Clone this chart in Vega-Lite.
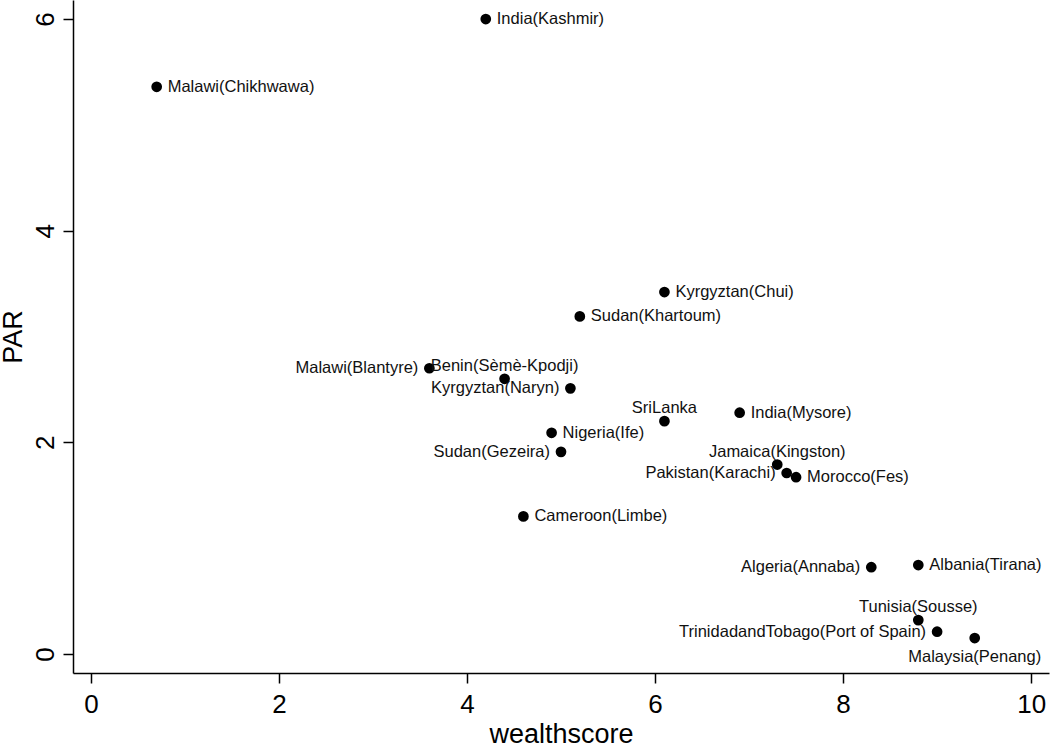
{
  "$schema": "https://vega.github.io/schema/vega-lite/v6.json",
  "width": 976,
  "height": 673,
  "autosize": {"type": "none"},
  "padding": {"left": 73, "top": 0, "right": 1, "bottom": 71},
  "background": "white",
  "config": {"view": {"stroke": null}, "font": "Liberation Sans"},
  "data": {
    "values": [
      {"site": "India(Kashmir)", "wealthscore": 4.2, "PAR": 6.0},
      {"site": "Malawi(Chikhwawa)", "wealthscore": 0.7, "PAR": 5.36},
      {"site": "Kyrgyztan(Chui)", "wealthscore": 6.1, "PAR": 3.42},
      {"site": "Sudan(Khartoum)", "wealthscore": 5.2, "PAR": 3.19},
      {"site": "Malawi(Blantyre)", "wealthscore": 3.6, "PAR": 2.7},
      {"site": "Benin(Sèmè-Kpodji)", "wealthscore": 4.4, "PAR": 2.6},
      {"site": "Kyrgyztan(Naryn)", "wealthscore": 5.1, "PAR": 2.51},
      {"site": "SriLanka", "wealthscore": 6.1, "PAR": 2.2},
      {"site": "India(Mysore)", "wealthscore": 6.9, "PAR": 2.28},
      {"site": "Nigeria(Ife)", "wealthscore": 4.9, "PAR": 2.09},
      {"site": "Sudan(Gezeira)", "wealthscore": 5.0, "PAR": 1.91},
      {"site": "Jamaica(Kingston)", "wealthscore": 7.3, "PAR": 1.79},
      {"site": "Pakistan(Karachi)", "wealthscore": 7.4, "PAR": 1.71},
      {"site": "Morocco(Fes)", "wealthscore": 7.5, "PAR": 1.67},
      {"site": "Cameroon(Limbe)", "wealthscore": 4.6, "PAR": 1.3},
      {"site": "Algeria(Annaba)", "wealthscore": 8.3, "PAR": 0.82},
      {"site": "Albania(Tirana)", "wealthscore": 8.8, "PAR": 0.84},
      {"site": "Tunisia(Sousse)", "wealthscore": 8.8, "PAR": 0.32},
      {"site": "TrinidadandTobago(Port of Spain)", "wealthscore": 9.0, "PAR": 0.21},
      {"site": "Malaysia(Penang)", "wealthscore": 9.4, "PAR": 0.15}
    ]
  },
  "encoding": {
    "x": {
      "field": "wealthscore",
      "type": "quantitative",
      "scale": {"domain": [-0.19, 10.19], "nice": false, "zero": false},
      "axis": {
        "title": "wealthscore",
        "values": [0, 2, 4, 6, 8, 10],
        "grid": false,
        "domainColor": "black",
        "domainWidth": 1.5,
        "tickColor": "black",
        "tickWidth": 1.5,
        "tickSize": 10,
        "labelFontSize": 26,
        "labelColor": "black",
        "labelPadding": 8,
        "labelFlush": false,
        "titleFontSize": 27,
        "titleFontWeight": "normal",
        "titleColor": "black",
        "titlePadding": 4
      }
    },
    "y": {
      "field": "PAR",
      "type": "quantitative",
      "scale": {"domain": [-0.18, 6.18], "nice": false, "zero": false},
      "axis": {
        "title": "PAR",
        "values": [0, 2, 4, 6],
        "grid": false,
        "domainColor": "black",
        "domainWidth": 1.5,
        "tickColor": "black",
        "tickWidth": 1.5,
        "tickSize": 10,
        "labelFontSize": 26,
        "labelColor": "black",
        "labelAngle": -90,
        "labelAlign": "center",
        "labelBaseline": "alphabetic",
        "labelPadding": 10,
        "labelFlush": false,
        "titleFontSize": 27,
        "titleFontWeight": "normal",
        "titleColor": "black",
        "titlePadding": 5
      }
    }
  },
  "layer": [
    {"mark": {"type": "circle", "size": 115, "color": "black", "opacity": 1}},
    {
      "transform": [{"filter": {"field": "site", "oneOf": ["India(Kashmir)", "Malawi(Chikhwawa)", "Kyrgyztan(Chui)", "Sudan(Khartoum)", "India(Mysore)", "Nigeria(Ife)", "Morocco(Fes)", "Cameroon(Limbe)", "Albania(Tirana)"]}}],
      "mark": {"type": "text", "align": "left", "baseline": "middle", "dx": 11, "fontSize": 16.5, "color": "#111111"},
      "encoding": {"text": {"field": "site"}}
    },
    {
      "transform": [{"filter": {"field": "site", "oneOf": ["Malawi(Blantyre)", "Kyrgyztan(Naryn)", "Sudan(Gezeira)", "Pakistan(Karachi)", "Algeria(Annaba)", "TrinidadandTobago(Port of Spain)"]}}],
      "mark": {"type": "text", "align": "right", "baseline": "middle", "dx": -11, "fontSize": 16.5, "color": "#111111"},
      "encoding": {"text": {"field": "site"}}
    },
    {
      "transform": [{"filter": {"field": "site", "oneOf": ["Benin(Sèmè-Kpodji)", "SriLanka", "Jamaica(Kingston)", "Tunisia(Sousse)"]}}],
      "mark": {"type": "text", "align": "center", "baseline": "alphabetic", "dy": -8, "fontSize": 16.5, "color": "#111111"},
      "encoding": {"text": {"field": "site"}}
    },
    {
      "transform": [{"filter": {"field": "site", "oneOf": ["Malaysia(Penang)"]}}],
      "mark": {"type": "text", "align": "center", "baseline": "top", "dy": 11, "fontSize": 16.5, "color": "#111111"},
      "encoding": {"text": {"field": "site"}}
    }
  ]
}
